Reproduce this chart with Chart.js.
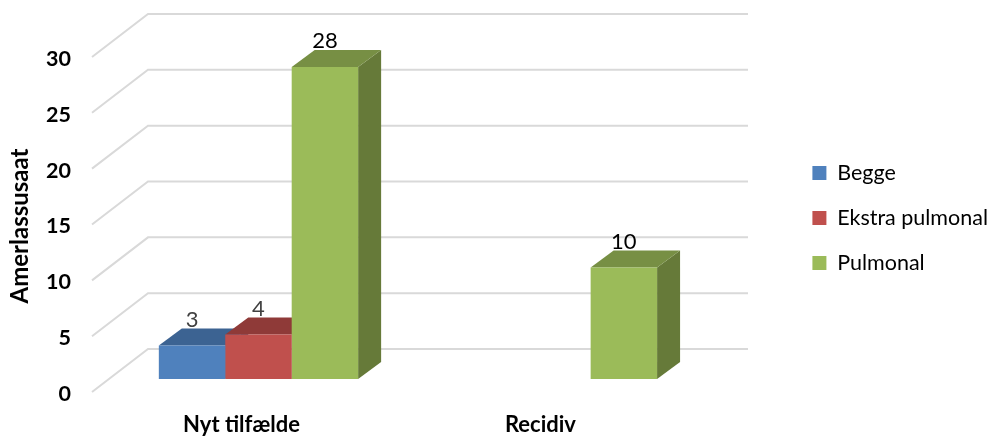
<!DOCTYPE html>
<html>
<head>
<meta charset="utf-8">
<script src="https://cdn.jsdelivr.net/npm/chart.js@4"></script>
<style>
  html, body { margin: 0; padding: 0; background: #fff; }
  canvas { display: block; }
</style>
</head>
<body>
<canvas id="grafico" width="989" height="436"></canvas>
<script>
const categorias = ['Nyt tilfælde', 'Recidiv'];
const begge = [3, null];
const ekstraPulmonal = [4, null];
const pulmonal = [28, 10];

const fonte = 'Lato, "Open Sans", sans-serif';

// depth of the bars and of the floor/side wall, in px
const fundoBarra = { dx: 23, dy: 17 };
const fundoParede = { dx: 56, dy: 43 };
const paredeEsq = 92;
const paredeDir = 748;
// tick labels sit slightly below the end of their grid line
const descidaRotulo = 2;

function poligono(ctx, cor, pts) {
  ctx.fillStyle = cor;
  ctx.beginPath();
  pts.forEach((p, i) => i ? ctx.lineTo(p[0], p[1]) : ctx.moveTo(p[0], p[1]));
  ctx.closePath();
  ctx.fill();
}

const efeito3d = {
  id: 'efeito3d',
  afterLayout(chart) {
    // legend sits above the middle of the plot and close to the right edge
    chart.legend.top -= 25;
    chart.legend.bottom -= 25;
    chart.legend.left += 9;
    chart.legend.right += 9;
  },
  beforeDatasetsDraw(chart) {
    const ctx = chart.ctx;
    const eixo = chart.scales.yLabels;

    ctx.save();
    ctx.strokeStyle = '#d9d9d9';
    ctx.lineWidth = 2;
    eixo.ticks.forEach(t => {
      const y = eixo.getPixelForValue(t.value) - descidaRotulo;
      ctx.beginPath();
      ctx.moveTo(paredeEsq, y);
      ctx.lineTo(paredeEsq + fundoParede.dx, y - fundoParede.dy);
      ctx.lineTo(paredeDir, y - fundoParede.dy);
      ctx.stroke();
    });
    ctx.restore();

    chart.data.datasets.forEach((ds, i) => {
      chart.getDatasetMeta(i).data.forEach((bar, j) => {
        if (ds.data[j] === null) return;
        const esq = bar.x - bar.width / 2;
        const dir = bar.x + bar.width / 2;
        const { dx, dy } = fundoBarra;
        poligono(ctx, ds.corLado, [[dir, bar.y], [dir + dx, bar.y - dy], [dir + dx, bar.base - dy], [dir, bar.base]]);
        poligono(ctx, ds.corTopo, [[esq, bar.y], [esq + dx, bar.y - dy], [dir + dx, bar.y - dy], [dir, bar.y]]);
      });
    });
  },
  afterDatasetsDraw(chart) {
    const ctx = chart.ctx;
    ctx.save();
    ctx.font = '22px ' + fonte;
    ctx.textAlign = 'center';
    ctx.textBaseline = 'middle';
    chart.data.datasets.forEach((ds, i) => {
      chart.getDatasetMeta(i).data.forEach((bar, j) => {
        if (ds.data[j] === null) return;
        ctx.fillStyle = ds.corRotulo;
        ctx.fillText(ds.data[j], bar.x, bar.y - 26);
      });
    });
    ctx.restore();
  }
};

new Chart(document.getElementById('grafico'), {
  type: 'bar',
  plugins: [efeito3d],
  data: {
    labels: categorias,
    datasets: [
      { label: 'Begge', data: begge, backgroundColor: '#4f81bd', corTopo: '#3c6392', corLado: '#345780', corRotulo: '#404040', yAxisID: 'y' },
      { label: 'Ekstra pulmonal', data: ekstraPulmonal, backgroundColor: '#c0504d', corTopo: '#8f3a38', corLado: '#7d3230', corRotulo: '#404040', yAxisID: 'y' },
      { label: 'Pulmonal', data: pulmonal, backgroundColor: '#9bbb59', corTopo: '#778f44', corLado: '#667a39', corRotulo: '#000000', yAxisID: 'y' }
    ]
  },
  options: {
    responsive: false,
    animation: false,
    devicePixelRatio: 1,
    layout: { padding: { top: 50 } },
    datasets: { bar: { categoryPercentage: 2 / 3, barPercentage: 1 } },
    plugins: {
      tooltip: { enabled: false },
      legend: {
        position: 'right',
        maxWidth: 210,
        labels: {
          boxWidth: 14,
          boxHeight: 14,
          padding: 23.5,
          color: '#000',
          font: { family: fonte, size: 21.5 }
        }
      }
    },
    scales: {
      x: {
        grid: { display: false, drawTicks: false },
        border: { display: false },
        afterFit(s) { s.height = 34; },
        ticks: {
          labelOffset: -17,
          padding: 10,
          color: '#000',
          font: { family: fonte, size: 22, weight: 'bold' }
        }
      },
      // scale of the bars' front plane
      y: {
        display: false,
        min: -2.064,
        max: 29.525
      },
      // scale printed on the left, sits lower because of the perspective
      yLabels: {
        position: 'left',
        min: -0.716,
        max: 30.805,
        afterFit(s) { s.width = 109; },
        // transparent tick marks push the labels clear of the side wall
        grid: { display: false, drawTicks: true, tickLength: 38, tickColor: 'transparent' },
        border: { display: false },
        title: {
          display: true,
          text: 'Amerlassusaat',
          color: '#000',
          font: { family: fonte, size: 24, weight: 'bold' },
          padding: { top: 6, bottom: 0 }
        },
        ticks: {
          stepSize: 5,
          includeBounds: false,
          padding: 0,
          color: '#000',
          font: { family: fonte, size: 21.5, weight: 'bold' }
        }
      },
      // empty space between plot and legend
      folga: {
        position: 'right',
        min: 0,
        max: 1,
        afterFit(s) { s.width = 73; },
        grid: { display: false, drawTicks: false },
        border: { display: false },
        ticks: { display: false }
      }
    }
  }
});
</script>
</body>
</html>
